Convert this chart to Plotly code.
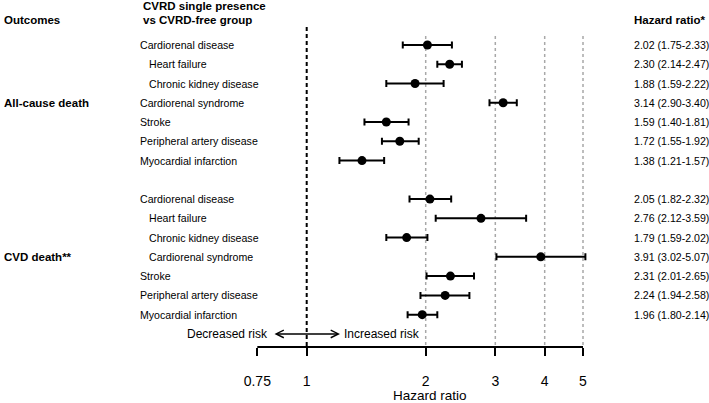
import plotly.graph_objects as go

# ---------------- data ----------------
subgroups = ["Cardiorenal disease", "Heart failure", "Chronic kidney disease",
             "Cardiorenal syndrome", "Stroke", "Peripheral artery disease",
             "Myocardial infarction"]
indent_allcause = [False, True, True, False, False, False, False]
indent_cvd = [False, True, True, True, False, False, False]

hr_allcause = [2.02, 2.30, 1.88, 3.14, 1.59, 1.72, 1.38]
lo_allcause = [1.75, 2.14, 1.59, 2.90, 1.40, 1.55, 1.21]
hi_allcause = [2.33, 2.47, 2.22, 3.40, 1.81, 1.92, 1.57]

hr_cvd = [2.05, 2.76, 1.79, 3.91, 2.31, 2.24, 1.96]
lo_cvd = [1.82, 2.12, 1.59, 3.02, 2.01, 1.94, 1.80]
hi_cvd = [2.32, 3.59, 2.02, 5.07, 2.65, 2.58, 2.14]

outcome_labels = ["All-cause death", "CVD death**"]
tick_values = [0.75, 1, 2, 3, 4, 5]
tick_labels = ["0.75", "1", "2", "3", "4", "5"]
ref_lines = [2, 3, 4, 5]

# ---------------- layout helpers ----------------
W, H = 709, 403
FONT = "Liberation Sans, Arial, sans-serif"
ROW0_PX, ROW_STEP = 45.0, 19.26
AXIS_PX = 347.0
X1_PX, DECADE_PX = 306.7, 395.3


def px_x(p):
    return p / W


def px_y(p):
    return 1 - p / H


rows_allcause = list(range(0, 7))
rows_cvd = list(range(8, 15))

hr = hr_allcause + hr_cvd
lo = lo_allcause + lo_cvd
hi = hi_allcause + hi_cvd
rows = rows_allcause + rows_cvd

fig = go.Figure()

# reference lines
for v in ref_lines:
    fig.add_shape(type="line", xref="x", yref="paper", x0=v, x1=v,
                  y0=px_y(36), y1=px_y(AXIS_PX),
                  line=dict(color="#a8a8a8", width=1.5, dash="dot"), layer="below")
fig.add_shape(type="line", xref="x", yref="paper", x0=1, x1=1,
              y0=px_y(27), y1=px_y(AXIS_PX),
              line=dict(color="black", width=2, dash="4px,3px"), layer="below")
# axis line from 0.75 to 5
fig.add_shape(type="line", xref="x", yref="paper", x0=tick_values[0], x1=tick_values[-1],
              y0=px_y(AXIS_PX), y1=px_y(AXIS_PX),
              line=dict(color="black", width=2))

fig.add_trace(go.Scatter(
    x=hr, y=rows, mode="markers",
    marker=dict(color="black", size=9),
    error_x=dict(type="data", symmetric=False,
                 array=[h - m for h, m in zip(hi, hr)],
                 arrayminus=[m - l for m, l in zip(hr, lo)],
                 color="black", thickness=2, width=3.5),
    showlegend=False, hoverinfo="skip", cliponaxis=False,
))

ann = []


def text(x, y, t, size=10.6, bold=False, xanchor="left", yref="y", xref="paper"):
    ann.append(dict(x=x, y=y, xref=xref, yref=yref, text=f"<b>{t}</b>" if bold else t,
                    showarrow=False, xanchor=xanchor, yanchor="middle",
                    font=dict(family=FONT, size=size, color="black")))


# headers
text(px_x(2), px_y(20), "Outcomes", 11.5, True, yref="paper")
text(px_x(140.5), px_y(6), "CVRD single presence", 11.5, True, yref="paper")
text(px_x(140.5), px_y(20), "vs CVRD-free group", 11.5, True, yref="paper")
text(px_x(631.5), px_y(20), "Hazard ratio*", 11.5, True, yref="paper")

# row labels and values
for grp_rows, indents, h_, l_, u_ in [(rows_allcause, indent_allcause, hr_allcause, lo_allcause, hi_allcause),
                                      (rows_cvd, indent_cvd, hr_cvd, lo_cvd, hi_cvd)]:
    for r, name, ind, a, b, c in zip(grp_rows, subgroups, indents, h_, l_, u_):
        text(px_x(146.5 if ind else 137.5), r, name)
        text(px_x(631.5), r, f"{a:.2f} ({b:.2f}-{c:.2f})")

# outcome group labels
text(px_x(2), rows_allcause[3], outcome_labels[0], 11.5, True)
text(px_x(2), rows_cvd[3], outcome_labels[1], 11.5, True)

# risk arrow
arrow_row = 15
ann.append(dict(x=(340 - X1_PX) / DECADE_PX, y=arrow_row, xref="x", yref="y",
                ax=(273 - X1_PX) / DECADE_PX, ay=arrow_row, axref="x", ayref="y",
                text="", showarrow=True, arrowhead=5, startarrowhead=5,
                arrowside="end+start", arrowsize=1, arrowwidth=1.5, arrowcolor="black"))
text(px_x(270), arrow_row, "Decreased risk", 12, xanchor="right")
text(px_x(342), arrow_row, "Increased risk", 12)

# axis title
text(px_x(430), px_y(395), "Hazard ratio", 13.5, xanchor="center", yref="paper")

fig.update_layout(
    width=W, height=H, margin=dict(l=0, r=0, t=0, b=0),
    paper_bgcolor="white", plot_bgcolor="white",
    annotations=ann, showlegend=False,
    xaxis=dict(type="log", domain=[0, 1],
               range=[-X1_PX / DECADE_PX, (W - X1_PX) / DECADE_PX],
               tickvals=tick_values, ticktext=tick_labels,
               ticks="outside", ticklen=8, tickwidth=2, tickcolor="black",
               showgrid=False, zeroline=False, showline=False,
               ticklabelstandoff=13,
               tickfont=dict(family=FONT, size=14, color="black")),
    yaxis=dict(domain=[1 - AXIS_PX / H, 1],
               range=[(AXIS_PX - ROW0_PX) / ROW_STEP, -ROW0_PX / ROW_STEP],
               showgrid=False, zeroline=False, showline=False,
               showticklabels=False, ticks=""),
)

fig.write_html("out.html", config={"displayModeBar": False},
               post_script="document.body.style.margin='0px';document.body.style.overflow='hidden';")
